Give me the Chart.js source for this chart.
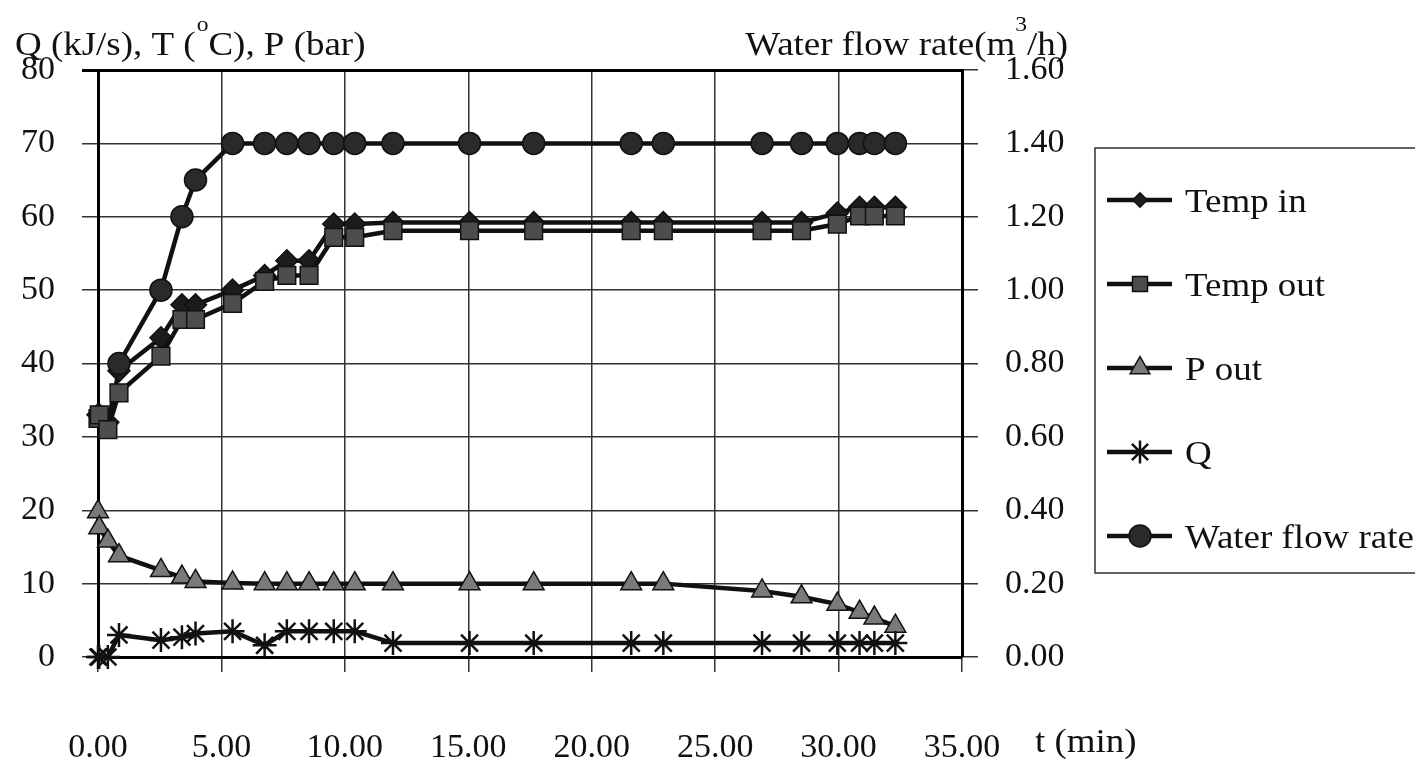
<!DOCTYPE html>
<html>
<head>
<meta charset="utf-8">
<script src="https://cdn.jsdelivr.net/npm/chart.js@4.4.1/dist/chart.umd.min.js"></script>
<style>
html, body { margin: 0; padding: 0; background: #fff; }
#wrap { width: 1415px; height: 770px; }
</style>
</head>
<body>
<div id="wrap"><canvas id="chart" width="1415" height="770"></canvas></div>
<script>
// time (min)
const times = [0, 0.05, 0.4, 0.85, 2.55, 3.4, 3.95, 5.45, 6.75, 7.65, 8.55, 9.55, 10.4, 11.95,
    15.05, 17.65, 21.6, 22.9, 26.9, 28.5, 29.95, 30.85, 31.45, 32.3];

const tempIn = [33, 33, 32, 39, 43.5, 48, 48, 50, 52, 54, 54, 59, 59, 59.2,
    59.2, 59.2, 59.2, 59.2, 59.2, 59.2, 60.5, 61.3, 61.3, 61.3];
const tempOut = [32.5, 33, 31, 36, 41, 46, 46, 48.2, 51.2, 52, 52, 57.2, 57.2, 58.1,
    58.1, 58.1, 58.1, 58.1, 58.1, 58.1, 59, 60.1, 60.1, 60.1];
const pOut = [19.8, 17.6, 15.8, 13.8, 11.8, 10.9, 10.3, 10.1, 10, 10, 10, 10, 10, 10,
    10, 10, 10, 10, 9, 8.2, 7.2, 6.1, 5.3, 4.2];
const qHeat = [0, 0, 0, 3.0, 2.3, 2.7, 3.2, 3.5, 1.6, 3.5, 3.5, 3.5, 3.5, 1.9,
    1.9, 1.9, 1.9, 1.9, 1.9, 1.9, 1.9, 1.9, 1.9, 1.9];
const waterFlow = [null, null, null, 0.80, 1.00, 1.20, 1.30, 1.40, 1.40, 1.40, 1.40, 1.40, 1.40, 1.40,
    1.40, 1.40, 1.40, 1.40, 1.40, 1.40, 1.40, 1.40, 1.40, 1.40];

const xTickStep = 5;
const yLeftTicks = { min: 0, max: 80, step: 10 };
const yRightTicks = { min: 0, max: 1.6, step: 0.2 };

const FONT = "'Liberation Serif', 'Times New Roman', serif";
const INK = '#111';
const STRETCH = 1.12; // the scanned labels are a bit wider than plain Times

Chart.defaults.font.family = FONT;
Chart.defaults.font.size = 34;
Chart.defaults.color = INK;

function pts(arr) {
    return times.map((t, i) => ({ x: t, y: arr[i] })).filter(p => p.y !== null);
}

const common = {
    borderColor: INK,
    borderWidth: 4.5,
    pointBorderColor: INK,
    pointBorderWidth: 1.5,
    tension: 0,
    clip: false
};

const datasets = [
    { ...common, label: 'Temp in', data: pts(tempIn), yAxisID: 'y', order: 3,
      pointStyle: 'rectRot', pointRadius: 11, pointBackgroundColor: '#1c1c1c' },
    { ...common, label: 'Temp out', data: pts(tempOut), yAxisID: 'y', order: 2,
      pointStyle: 'rect', pointRadius: 12.5, pointBackgroundColor: '#4d4d4d' },
    { ...common, label: 'P out', data: pts(pOut), yAxisID: 'y', order: 2,
      pointStyle: 'triangle', pointRadius: 12, pointBackgroundColor: '#7a7a7a' },
    { ...common, label: 'Q', data: pts(qHeat), yAxisID: 'y', order: 1,
      pointStyle: 'star', pointRadius: 12, pointBorderWidth: 2.5, pointBackgroundColor: INK },
    { ...common, label: 'Water flow rate', data: pts(waterFlow), yAxisID: 'y1', order: 0,
      pointStyle: 'circle', pointRadius: 11, pointBackgroundColor: '#2a2a2a' }
];
const legendScale = [0.65, 0.85, 0.95, 0.95, 1];

function textW(ctx, s, size) {
    ctx.font = size + 'px ' + FONT;
    return ctx.measureText(s).width * STRETCH;
}
function put(ctx, s, x, y, size) {
    const w = textW(ctx, s, size);
    ctx.save();
    ctx.translate(x, y);
    ctx.scale(STRETCH, 1);
    ctx.fillText(s, 0, 0);
    ctx.restore();
    return w;
}

// axis titles and the boxed legend on the right
const decorations = {
    id: 'decorations',
    afterDraw(chart) {
        const ctx = chart.ctx;
        ctx.save();
        ctx.fillStyle = INK;
        ctx.textBaseline = 'alphabetic';
        ctx.textAlign = 'left';

        const big = 33, small = 21, base = 55;

        // left title with degree "o"
        let x = 15;
        x += put(ctx, 'Q (kJ/s), T (', x, base, big);
        x += put(ctx, 'o', x + 1, base - 24, small) + 1;
        put(ctx, 'C), P (bar)', x, base, big);

        // right title, right edge at 1068
        const wa = textW(ctx, 'Water flow rate(m', big);
        const wb = textW(ctx, '3', small);
        const wc = textW(ctx, '/h)', big);
        const rx = 1068 - wa - wb - wc;
        put(ctx, 'Water flow rate(m', rx, base, big);
        put(ctx, '3', rx + wa, base - 24, small);
        put(ctx, '/h)', rx + wa + wb, base, big);

        // x axis unit
        put(ctx, 't (min)', 1035, 752, big);

        // legend
        ctx.strokeStyle = '#333';
        ctx.lineWidth = 1.5;
        ctx.strokeRect(1095, 148, 340, 425);
        chart.data.datasets.forEach((ds, i) => {
            const y = 200 + i * 84;
            ctx.strokeStyle = INK;
            ctx.lineWidth = 4.5;
            ctx.beginPath();
            ctx.moveTo(1107, y);
            ctx.lineTo(1172, y);
            ctx.stroke();
            ctx.fillStyle = ds.pointBackgroundColor;
            ctx.strokeStyle = INK;
            ctx.lineWidth = ds.pointBorderWidth;
            Chart.helpers.drawPoint(ctx, {
                pointStyle: ds.pointStyle, rotation: 0,
                radius: ds.pointRadius * legendScale[i], borderWidth: ds.pointBorderWidth
            }, 1140, y);
            ctx.fillStyle = INK;
            put(ctx, ds.label, 1185, y + 12, big);
        });
        ctx.restore();
    }
};

new Chart(document.getElementById('chart'), {
    type: 'line',
    data: { datasets: datasets },
    options: {
        responsive: false,
        animation: false,
        layout: { padding: { left: 0, right: 0, top: 70, bottom: 0 } },
        plugins: {
            legend: { display: false },
            tooltip: { enabled: false }
        },
        scales: {
            x: {
                type: 'linear',
                min: 0,
                max: 35,
                ticks: {
                    stepSize: xTickStep,
                    padding: 56,
                    maxRotation: 0,
                    autoSkip: false,
                    callback: v => v.toFixed(2)
                },
                grid: { color: '#333', lineWidth: 1.5, tickLength: 15 },
                border: { color: '#000', width: 3 },
                afterFit: s => { s.height = 113; }
            },
            y: {
                position: 'left',
                min: yLeftTicks.min,
                max: yLeftTicks.max,
                ticks: { stepSize: yLeftTicks.step, padding: 27 },
                grid: {
                    color: ctx => ctx.tick && ctx.tick.value === yLeftTicks.max ? '#000' : '#333',
                    lineWidth: ctx => ctx.tick && ctx.tick.value === yLeftTicks.max ? 3 : 1.5,
                    tickLength: 16
                },
                border: { color: '#000', width: 3 },
                afterFit: s => { s.width = 98; }
            },
            y1: {
                position: 'right',
                min: yRightTicks.min,
                max: yRightTicks.max,
                ticks: { stepSize: yRightTicks.step, padding: 27, callback: v => v.toFixed(2) },
                grid: { drawOnChartArea: false, color: '#333', lineWidth: 1.5, tickLength: 16 },
                border: { color: '#000', width: 3 },
                afterFit: s => { s.width = 453; }
            }
        }
    },
    plugins: [decorations]
});
</script>
</body>
</html>
